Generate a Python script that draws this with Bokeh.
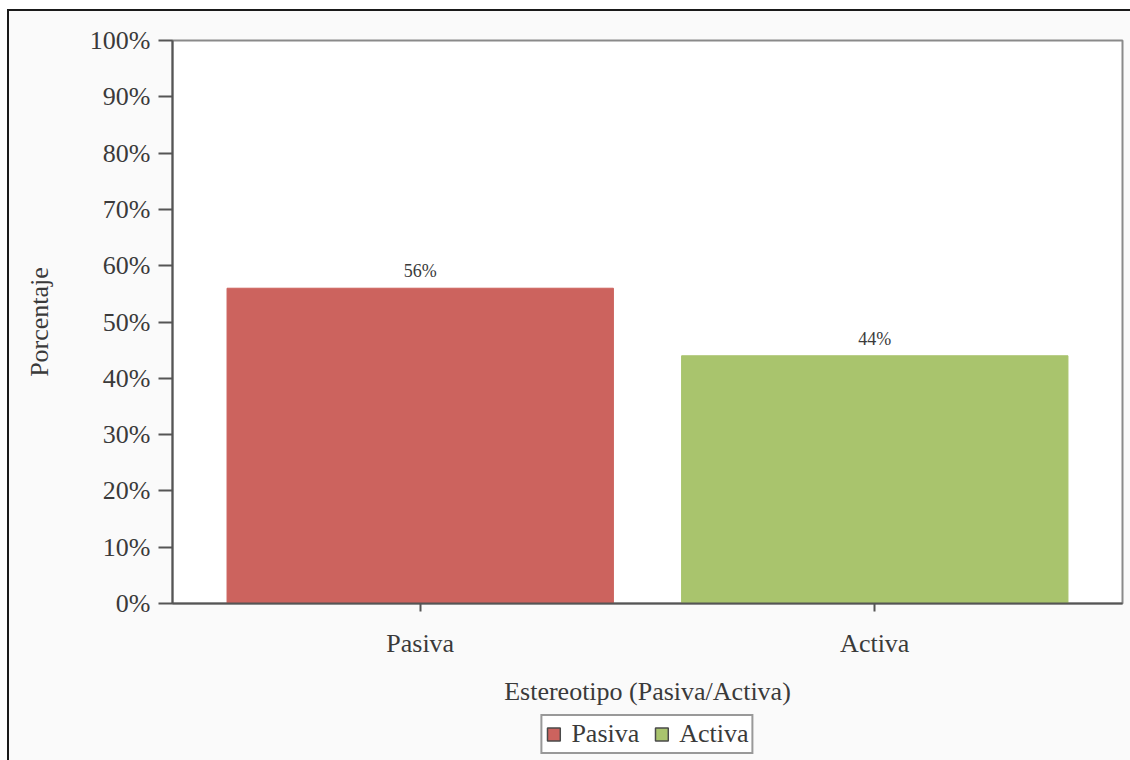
from bokeh.plotting import figure
from bokeh.layouts import column
from bokeh.models import (ColumnDataSource, FactorRange, Range1d, Legend, LegendItem,
                          NumeralTickFormatter, FixedTicker, LabelSet)
from bokeh.core.properties import value
from bokeh.embed import file_html
from bokeh.resources import INLINE

# Share of each stereotype
categories = ["Pasiva", "Activa"]
percentages = [56, 44]
bar_colors = ["#CC635E", "#A9C46D"]
y_ticks = [0, 10, 20, 30, 40, 50, 60, 70, 80, 90, 100]

FONT = "Liberation Serif"
TEXT = "#3a3a3a"
PANEL_BG = "#fafafa"

source = ColumnDataSource(dict(
    cat=categories,
    pct=[v / 100 for v in percentages],
    color=bar_colors,
    label=[f"{v}%" for v in percentages],
))

p = figure(
    width=1122, height=697,
    x_range=FactorRange(*categories, range_padding=0.045, range_padding_units="absolute"),
    y_range=Range1d(0, 1.0),
    output_backend="svg", toolbar_location=None,
    min_border_left=163, min_border_right=9, min_border_top=29, min_border_bottom=103,
)
p.margin = (0, 0, 0, 0)

p.background_fill_color = "white"
p.border_fill_color = PANEL_BG
p.outline_line_color = "#8a8a8a"
p.outline_line_width = 2
p.grid.visible = False

p.vbar(x="cat", top="pct", width=0.85, color="color", source=source)

labels = LabelSet(x="cat", y="pct", text="label", source=source,
                  text_align="center", text_baseline="bottom", y_offset=7,
                  text_font=value(FONT), text_font_size="18px", text_color=TEXT)
p.add_layout(labels)

# y axis
ya = p.yaxis[0]
ya.ticker = FixedTicker(ticks=[t / 100 for t in y_ticks])
ya.formatter = NumeralTickFormatter(format="0%")
ya.axis_label = "Porcentaje"
ya.axis_line_color = "#555555"
ya.axis_line_width = 2
ya.major_tick_line_color = "#555555"
ya.major_tick_line_width = 2
ya.major_tick_out = 14
ya.major_tick_in = 0
ya.minor_tick_line_color = None
ya.major_label_standoff = 8
ya.axis_label_standoff = 33

# x axis
xa = p.xaxis[0]
xa.axis_label = "Estereotipo (Pasiva/Activa)"
xa.axis_line_color = "#555555"
xa.axis_line_width = 2
xa.major_tick_line_color = "#555555"
xa.major_tick_line_width = 2
xa.major_tick_out = 8
xa.major_tick_in = 0
xa.major_label_standoff = 17
xa.axis_label_standoff = 16

for ax in (xa, ya):
    ax.major_label_text_font = FONT
    ax.major_label_text_font_size = "26px"
    ax.major_label_text_color = TEXT
    ax.axis_label_text_font = FONT
    ax.axis_label_text_font_size = "26px"
    ax.axis_label_text_font_style = "normal"
    ax.axis_label_text_color = TEXT

# legend strip underneath the chart
lg = figure(
    width=1122, height=52,
    x_range=Range1d(0, 1), y_range=Range1d(0, 1),
    output_backend="svg", toolbar_location=None,
    min_border=0,
)
lg.margin = (0, 0, 0, 0)
lg.axis.visible = False
lg.grid.visible = False
lg.outline_line_color = None
lg.background_fill_color = PANEL_BG
lg.border_fill_color = PANEL_BG

# swatches with a dark outline (renderers carry no drawable data)
nan = float("nan")
swatches = []
for cat, col in zip(categories, bar_colors):
    r = lg.vbar(x=[nan], bottom=[nan], top=[nan], width=0.5,
                fill_color=col, line_color="#4a4a4a", line_width=1.5)
    swatches.append(LegendItem(label=cat, renderers=[r]))

legend = Legend(items=swatches, orientation="horizontal", location="center",
                label_text_font=FONT, label_text_font_size="26px", label_text_color=TEXT,
                label_height=26,
                glyph_width=16, glyph_height=16, spacing=14, label_standoff=10,
                padding=3, margin=0,
                border_line_color="#333333", border_line_width=2,
                background_fill_color="white", background_fill_alpha=1.0)
lg.add_layout(legend)

# outer frame: dark rule along the top and left edges
layout = column(p, lg, spacing=0,
                styles={"background-color": PANEL_BG,
                        "border-left": "2px solid #1a1a1a",
                        "border-top": "2px solid #1a1a1a",
                        "margin-left": "7px", "margin-top": "9px"})
open("out.html", "w").write(file_html(layout, INLINE))
